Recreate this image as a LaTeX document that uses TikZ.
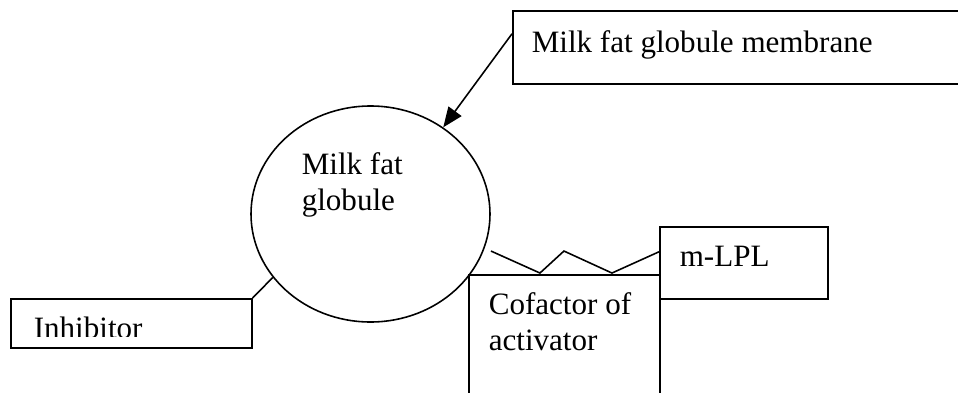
\documentclass[tikz,border=0pt]{standalone}
\usepackage{fontspec}
\setmainfont{Liberation Serif}
\usetikzlibrary{shapes.geometric,arrows.meta}

\tikzset{
  box/.style={draw,rectangle,anchor=north west,inner sep=0pt},
  txt/.style={anchor=base west,inner sep=0pt,align=left},
}

\begin{document}
\begin{tikzpicture}[line width=.45pt,font=\fontsize{8.84pt}{9.96pt}\selectfont]
      \useasboundingbox (0,0) rectangle (9.58,3.92);

      \begin{scope}[every node/.style={box}]
        \node[minimum width=4.63cm,minimum height=.73cm] (membrane) at (5.12,3.82) {};
        \node[minimum width=2.41cm,minimum height=.49cm] (inhibitor) at (0.10,0.94) {};
        \node[minimum width=1.91cm,minimum height=1.30cm] (cofactor) at (4.68,1.18) {};
        \node[minimum width=1.68cm,minimum height=.72cm] (mlpl) at (6.59,1.66) {};
      \end{scope}

      \node[draw,ellipse,inner sep=0pt,minimum width=2.39cm,minimum height=2.16cm] (globule) at (3.705,1.78) {};

      % base west of a two-line node sits on the last line
      \begin{scope}[every node/.style={txt}]
        \node (membranetext) at (5.31,3.40) {Milk fat globule membrane};
        \node (globuletext) at (3.01,1.82) {Milk fat\\globule};
        \node (cofactortext) at (4.88,0.42) {Cofactor of\\activator};
        \node (mlpltext) at (6.79,1.26) {m-LPL};
      \end{scope}

      \begin{scope}
        \clip (inhibitor.north west) rectangle ([yshift=.12cm]inhibitor.south east);
        \node[txt] (inhibitortext) at (0.33,0.54) {Inhibitor};
      \end{scope}

      \draw[-{Triangle[length=.2cm,width=.16cm]}] ([yshift=.135cm]membrane.west) -- (globule.50);
      \draw (inhibitor.north east) -- (globule.213);
      \draw ([shift={(.065,-.022)}]globule.-17) -- ++(.49,-.22) -- ++(.24,.22)
            -- ++(.48,-.22) -- ([yshift=.11cm]mlpl.west);

    \end{tikzpicture}
\end{document}
